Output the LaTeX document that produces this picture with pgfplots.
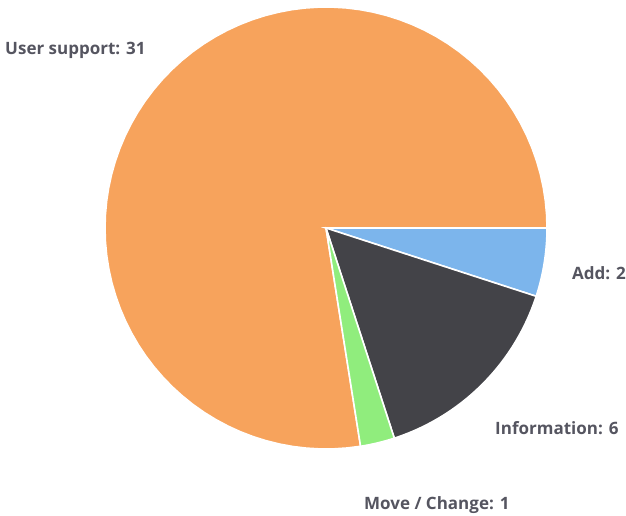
\documentclass[border=0pt]{standalone}
\usepackage{pgfplots}
\pgfplotsset{compat=1.18}
\usepackage{fontspec}
\setmainfont{Open Sans}
\definecolor{cAdd}{HTML}{7CB5EC}
\definecolor{cInfo}{HTML}{434348}
\definecolor{cMove}{HTML}{90ED7D}
\definecolor{cUser}{HTML}{F7A35C}
\definecolor{txt}{HTML}{555560}
% values
\def\vAdd{2}
\def\vInfo{6}
\def\vMove{1}
\def\vUser{31}
\pgfmathsetmacro{\total}{\vAdd+\vInfo+\vMove+\vUser}
\pgfmathsetmacro{\aA}{0}
\pgfmathsetmacro{\aB}{\aA-360*\vAdd/\total}
\pgfmathsetmacro{\aC}{\aB-360*\vInfo/\total}
\pgfmathsetmacro{\aD}{\aC-360*\vMove/\total}
\pgfmathsetmacro{\aE}{\aD-360*\vUser/\total}
\begin{document}
\begin{tikzpicture}
\begin{axis}[
  scale only axis, width=626pt, height=515pt,
  xmin=0, xmax=626, ymin=0, ymax=515,
  hide axis, clip=false,
  samples=80, variable=\t,
]
\path (axis cs:0,0) (axis cs:626,515);
% pie centred at (326,287) in y-up coordinates (image y 228), radius 221
\addplot[fill=cUser, draw=white, line width=1.6pt, domain=\aD:\aE]
  ({326+221*cos(\t)},{287+221*sin(\t)}) -- (axis cs:326,287) -- cycle;
\addplot[fill=cAdd, draw=white, line width=1.6pt, domain=\aA:\aB]
  ({326+221*cos(\t)},{287+221*sin(\t)}) -- (axis cs:326,287) -- cycle;
\addplot[fill=cInfo, draw=white, line width=1.6pt, domain=\aB:\aC]
  ({326+221*cos(\t)},{287+221*sin(\t)}) -- (axis cs:326,287) -- cycle;
\addplot[fill=cMove, draw=white, line width=1.6pt, domain=\aC:\aD]
  ({326+221*cos(\t)},{287+221*sin(\t)}) -- (axis cs:326,287) -- cycle;
\begin{scope}[font=\fontsize{17}{19}\selectfont\bfseries, text=txt]
\node[anchor=west, inner sep=0pt] at (axis cs:5,465) {User support: 31};
\node[anchor=west, inner sep=0pt] at (axis cs:572,242) {Add: 2};
\node[anchor=west, inner sep=0pt] at (axis cs:495,87) {Information: 6};
\node[anchor=west, inner sep=0pt] at (axis cs:364,10) {Move / Change: 1};
\end{scope}
\end{axis}
\end{tikzpicture}
\end{document}
